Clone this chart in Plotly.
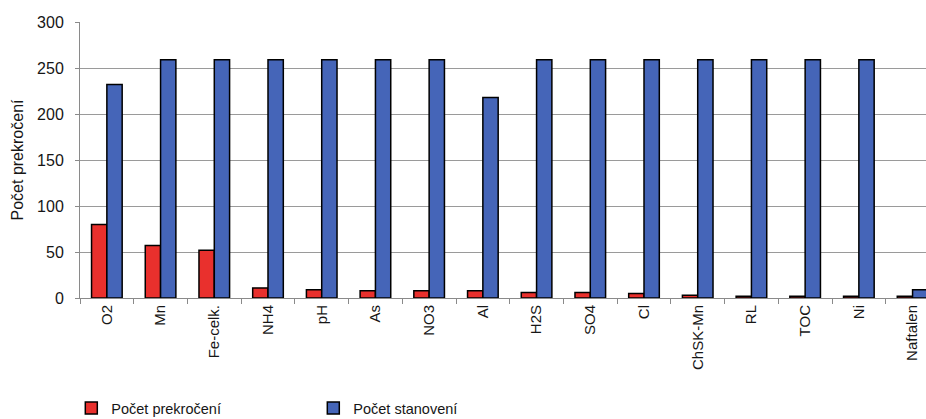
import plotly.graph_objects as go

# Monitored parameters
categories = ["O2", "Mn", "Fe-celk.", "NH4", "pH", "As", "NO3", "Al", "H2S",
              "SO4", "Cl", "ChSK-Mn", "RL", "TOC", "Ni", "Naftalen"]

# Number of limit exceedances
exceedances = [80, 57, 52, 11, 9, 8, 8, 8, 6, 6, 5, 3, 2, 2, 2, 2]

# Number of determinations
determinations = [232, 259, 259, 259, 259, 259, 259, 218, 259,
                  259, 259, 259, 259, 259, 259, 9]

y_ticks = [0, 50, 100, 150, 200, 250, 300]

FONT = "Liberation Sans, Arial, sans-serif"
TEXT = "#161616"

fig = go.Figure()
fig.add_trace(go.Bar(
    x=categories, y=exceedances, name="Počet prekročení",
    marker=dict(color="#E9302D", line=dict(color="#000000", width=1.5)),
))
fig.add_trace(go.Bar(
    x=categories, y=determinations, name="Počet stanovení",
    marker=dict(color="#4565B8", line=dict(color="#000000", width=1.5)),
))

fig.update_layout(
    width=926, height=419,
    margin=dict(l=80, r=0, t=22, b=121),
    paper_bgcolor="white", plot_bgcolor="white",
    barmode="group", bargap=0.43, bargroupgap=0,
    font=dict(family=FONT, size=15, color=TEXT),
    showlegend=True,
    legend=dict(
        orientation="h", xref="container", yref="container",
        x=0.077, xanchor="left", y=0.026, yanchor="middle",
        font=dict(family=FONT, size=14.5, color=TEXT),
        entrywidth=197, entrywidthmode="pixels",
        itemwidth=30, bgcolor="rgba(0,0,0,0)",
    ),
    xaxis=dict(
        type="category", range=[-0.5, 15.25], automargin=False,
        tickangle=-90, tickfont=dict(size=15, color=TEXT),
        showline=True, linecolor="#8a8a8a", linewidth=1,
        ticks="outside", tickson="boundaries", ticklen=5, tickcolor="#8a8a8a",
        showgrid=False,
    ),
    yaxis=dict(
        range=[0, 300], tickvals=y_ticks, automargin=False,
        tickfont=dict(size=16, color=TEXT),
        ticklabelstandoff=8,
        title=dict(text="Počet prekročení", font=dict(size=16, color=TEXT),
                   standoff=9),
        showline=True, linecolor="#8a8a8a", linewidth=1,
        ticks="outside", ticklen=4, tickcolor="#8a8a8a",
        showgrid=True, gridcolor="#9a9a9a", gridwidth=1,
        zeroline=False,
    ),
)

fig.write_html("out.html")
